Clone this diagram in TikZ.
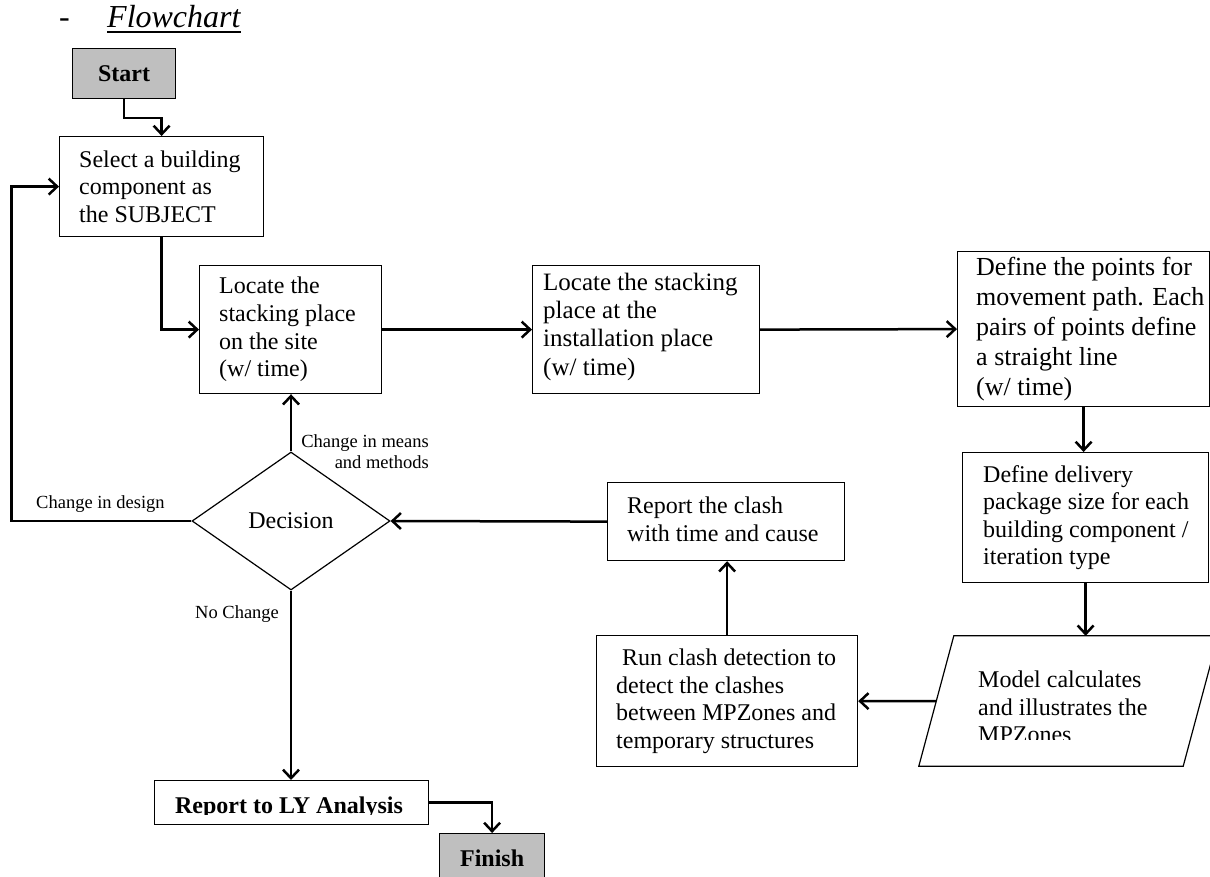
\documentclass[tikz,border=0pt]{standalone}
\usepackage{fontspec}
\setmainfont{Liberation Serif}
\usetikzlibrary{arrows.meta,shapes.geometric}
\definecolor{termgray}{RGB}{191,191,191}

\begin{document}
\begin{tikzpicture}[x=1pt,y=-1pt,
  box/.style={draw=black, line width=1.2pt, rectangle, inner sep=0pt, anchor=north west},
  txt/.style={inner sep=0pt, align=left, anchor=west, font=\fontsize{24}{27.6}\selectfont},
  term/.style={box, fill=termgray, font=\bfseries\fontsize{24}{27.6}\selectfont},
  flow/.style={line width=2.5pt, -{Straight Barb[length=8.5pt,width=16pt]}},
  lbl/.style={inner sep=0pt, font=\fontsize{18.5}{20.5}\selectfont},
]
\useasboundingbox (0,0) rectangle (1210,877);

% heading
\node[inner sep=0pt, anchor=base west, font=\fontsize{32}{36}\selectfont] (dash) at (59,28) {-};
\node[inner sep=0pt, anchor=base west, font=\itshape\fontsize{32}{36}\selectfont] (ttl) at (107,28) {Flowchart};
\draw[line width=1.6pt] ([yshift=-4.3pt]ttl.base west) -- ([yshift=-4.3pt]ttl.base east);

% terminals
\node[term, minimum width=103pt, minimum height=50pt] (start) at (72,48) {Start};
\node[term, minimum width=105pt, minimum height=50pt] (finish) at (439,833) {Finish};

% process boxes
\node[box, minimum width=204pt, minimum height=100pt] (select) at (59,136) {};
\node[txt] (selectT) at ([xshift=20pt]select.west) {Select a building\\component as\\the SUBJECT};

\node[box, minimum width=182pt, minimum height=128pt] (loc1) at (199,265) {};
\node[txt] (loc1T) at ([xshift=20pt]loc1.west) {Locate the\\stacking place\\on the site\\(w/ time)};

\node[box, minimum width=227pt, minimum height=128pt] (loc2) at (532,265) {};
\node[txt, font=\fontsize{25}{28.4}\selectfont] (loc2T) at ([xshift=11pt,yshift=3pt]loc2.west) {Locate the stacking\\place at the\\installation place\\(w/ time)};

\node[box, minimum width=252pt, minimum height=155pt] (defp) at (957,251) {};
\node[txt, font=\fontsize{26}{29.8}\selectfont] (defpT) at ([xshift=19pt]defp.west) {Define the points for\\movement path. Each\\pairs of points define\\a straight line\\(w/ time)};

\node[box, minimum width=246pt, minimum height=130pt] (defd) at (962,452) {};
\node[txt] (defdT) at ([xshift=21pt]defd.west) {Define delivery\\package size for each\\building component /\\iteration type};

% data (parallelogram): the node spans the mid-line of the slanted sides
\node[inner sep=0pt, minimum width=264pt, minimum height=130pt] (para) at (1068.5,701) {};
\draw[line width=1.2pt] ([xshift=17.5pt]para.north west) -- ([xshift=17.5pt]para.north east)
  -- ([xshift=-17.5pt]para.south east) -- ([xshift=-17.5pt]para.south west) -- cycle;
\begin{scope}
  \clip (900,600) rectangle (1210,739);
  \node[txt] (paraT) at ([xshift=-90.5pt,yshift=-6pt]para.center) {Model calculates\\and illustrates the\\MPZones};
\end{scope}

\node[box, minimum width=261pt, minimum height=131pt] (runc) at (596,635) {};
\node[txt] (runcT) at ([xshift=20pt]runc.west) {\hspace*{6pt}Run clash detection to\\detect the clashes\\between MPZones and\\temporary structures};

\node[box, minimum width=237pt, minimum height=78pt] (repc) at (607,482) {};
\node[txt] (repcT) at ([xshift=20pt,yshift=2.5pt]repc.west) {Report the clash\\with time and cause};

\node[draw=black, line width=1.2pt, diamond, minimum width=198pt, minimum height=138pt, inner sep=0pt,
      font=\fontsize{24}{27.6}\selectfont] (dec) at (291,521) {Decision};

\node[box, minimum width=274pt, minimum height=44pt] (reply) at (154,780) {};
\begin{scope}
  \clip (150,770) rectangle (430,814);
  \node[inner sep=0pt, anchor=base, font=\bfseries\fontsize{24}{27.6}\selectfont] (replyT) at (289,813) {Report to LY Analysis};
\end{scope}

% branch labels
\node[lbl, anchor=north east, align=right] (lblmeans) at (429,434.5) {Change in means\\and methods};
\node[lbl, anchor=base west] (lbldesign) at (36,508) {Change in design};
\node[lbl, anchor=base west] (lblno) at (195,618) {No Change};

% connectors
\draw[flow] (start.south) -- ++(0,19) -| (select.north);
\draw[flow] (select.south) |- (loc1.west);
\draw[flow] (loc1.east) -- (loc2.west);
\draw[flow] (loc2.east) -- (defp.west);
\draw[flow] (defp.south) -- (defp.south |- defd.north);
\draw[flow] (defd.south) -- (defd.south |- para.north);
\draw[flow] (para.west) -- (runc.east);
\draw[flow] (runc.north) -- (runc.north |- repc.south);
\draw[flow] (repc.west) -- (dec.east);
\draw[flow] (dec.north) -- (dec.north |- loc1.south);
\draw[flow] (dec.west) -- ++(-180,0) |- (select.west);
\draw[flow] (dec.south) -- (dec.south |- reply.north);
\draw[flow] (reply.east) -| (finish.north);
\end{tikzpicture}
\end{document}
